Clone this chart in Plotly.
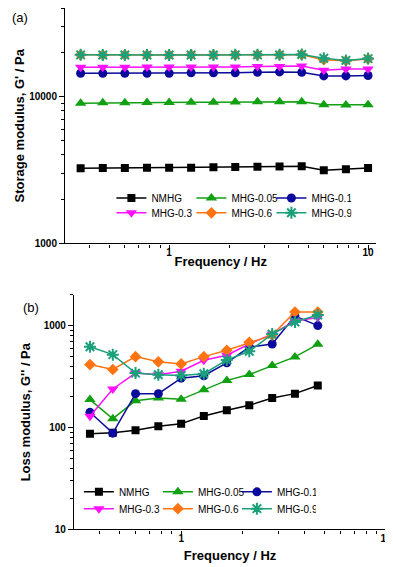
import numpy as np
import plotly.graph_objects as go

# frequency points (Hz), 9 points per decade
freq_g1 = [0.359, 0.464, 0.599, 0.774, 1.0, 1.29, 1.67, 2.15, 2.78, 3.59, 4.64, 5.99, 7.74, 10.0]
freq_g2 = freq_g1[:11]

names = ['NMHG', 'MHG-0.05', 'MHG-0.1', 'MHG-0.3', 'MHG-0.6', 'MHG-0.9']

# storage modulus G' (Pa)
g1_nmhg = [3250, 3260, 3260, 3270, 3280, 3280, 3300, 3310, 3330, 3340, 3350, 3150, 3200, 3260]
g1_005 = [9000, 9050, 9080, 9100, 9100, 9150, 9150, 9170, 9200, 9200, 9200, 8800, 8750, 8780]
g1_01 = [14400, 14400, 14400, 14400, 14400, 14500, 14500, 14500, 14600, 14700, 14600, 13800, 13800, 13900]
g1_03 = [15800, 15800, 15800, 15850, 15850, 15900, 15900, 15900, 16000, 16000, 16100, 15100, 15400, 15400]
g1_06 = [19200, 19150, 19150, 19150, 19150, 19200, 19150, 19200, 19200, 19200, 19250, 17800, 17500, 18000]
g1_09 = [19200, 19150, 19150, 19150, 19150, 19150, 19150, 19200, 19200, 19200, 19300, 18200, 17600, 18100]

# loss modulus G'' (Pa)
g2_nmhg = [87, 89, 94, 103, 109, 130, 148, 165, 195, 215, 258]
g2_005 = [188, 122, 183, 195, 189, 235, 290, 331, 405, 493, 655]
g2_01 = [141, 88, 215, 215, 305, 322, 431, 616, 660, 1240, 1000]
g2_03 = [129, 239, 342, 329, 357, 457, 512, 660, 825, 1110, 1200]
g2_06 = [415, 371, 496, 441, 421, 496, 573, 685, 807, 1360, 1360]
g2_09 = [621, 519, 342, 329, 324, 337, 460, 560, 825, 1086, 1270]

# axis ticks
x_major = [1, 10]
x_minor = [0.4, 0.5, 0.6, 0.7, 0.8, 0.9, 2, 3, 4, 5, 6, 7, 8, 9]
y1_major = [1000, 10000]
y1_minor = [2000, 3000, 4000, 5000, 6000, 7000, 8000, 9000, 20000, 30000, 40000]
y2_major = [10, 100, 1000]
y2_minor = [20, 30, 40, 50, 60, 70, 80, 90, 200, 300, 400, 500, 600, 700, 800, 900, 2000]

colors = ['#000000', '#11a011', '#0a0a9c', '#ff10ff', '#ff7410', '#1aa07a']
symbols = ['square', 'triangle-up', 'circle', 'triangle-down', 'diamond', 'asterisk-open']
sizes = [8, 10, 9, 10, 9, 10]

FONT = 'Liberation Sans, Arial, sans-serif'

fig = go.Figure()

top_series = [g1_nmhg, g1_005, g1_01, g1_03, g1_06, g1_09]
bottom_series = [g2_nmhg, g2_005, g2_01, g2_03, g2_06, g2_09]

for i, (name, ys) in enumerate(zip(names, top_series)):
    marker = dict(symbol=symbols[i], size=sizes[i], color=colors[i],
                  line=dict(color=colors[i], width=2 if symbols[i] == 'asterisk-open' else 0))
    fig.add_trace(go.Scatter(x=freq_g1, y=ys, name=name, mode='lines+markers',
                             line=dict(color=colors[i], width=1.5), marker=marker,
                             xaxis='x', yaxis='y',
                             legend='legend' if i < 3 else 'legend2'))

for i, (name, ys) in enumerate(zip(names, bottom_series)):
    marker = dict(symbol=symbols[i], size=sizes[i], color=colors[i],
                  line=dict(color=colors[i], width=2 if symbols[i] == 'asterisk-open' else 0))
    fig.add_trace(go.Scatter(x=freq_g2, y=ys, name=name, mode='lines+markers',
                             line=dict(color=colors[i], width=1.5), marker=marker,
                             xaxis='x2', yaxis='y2',
                             legend='legend3' if i < 3 else 'legend4'))

tickfont = dict(family=FONT, size=10, color='black', weight='bold')
titlefont = dict(family=FONT, size=13, color='black', weight='bold')


def log_axis(domain, rng, major, minor, anchor, title, standoff, labelshift=0):
    return dict(type='log', domain=domain, range=rng, anchor=anchor,
                showline=True, linecolor='black', linewidth=1.2,
                showgrid=False, zeroline=False,
                ticks='outside', ticklen=5, tickwidth=1.2, tickcolor='black',
                tickmode='array', tickvals=major, ticktext=[str(v) for v in major],
                tickfont=tickfont, ticklabelstandoff=labelshift,
                minor=dict(tickmode='array', tickvals=minor, ticks='outside',
                           ticklen=3, tickwidth=1, tickcolor='black', showgrid=False),
                title=dict(text=title, font=titlefont, standoff=standoff))


W, H = 393, 567
fig.update_layout(
    width=W, height=H,
    margin=dict(l=0, r=0, t=0, b=0),
    plot_bgcolor='white', paper_bgcolor='white',
    font=dict(family=FONT, color='black'),
    xaxis=log_axis([58 / W, 374 / W], [np.log10(0.3), np.log10(11)], x_major, x_minor,
                   'y', 'Frequency / Hz', 0, -6),
    yaxis=log_axis([1 - 238 / H, 1.0], [3, np.log10(40000)], y1_major, y1_minor,
                   'x', "Storage modulus, G' / Pa", 1),
    xaxis2=log_axis([67 / W, 384 / W], [np.log10(0.3), 1], x_major, x_minor,
                    'y2', 'Frequency / Hz', 8, -6),
    yaxis2=log_axis([1 - 527 / H, 1 - 290 / H], [1, np.log10(2000)], y2_major, y2_minor,
                    'x2', "Loss modulus, G'' / Pa", 10),
)

leg = dict(orientation='h', entrywidth=35, entrywidthmode='pixels', bgcolor='rgba(0,0,0,0)',
           font=dict(family=FONT, size=10, color='black'), xanchor='left', yanchor='middle',
           itemwidth=30, tracegroupgap=0)
fig.update_layout(
    legend=dict(leg, x=105 / W, y=1 - 192 / H),
    legend2=dict(leg, x=105 / W, y=1 - 207 / H),
    legend3=dict(leg, x=72 / W, y=1 - 489 / H, entrywidth=34),
    legend4=dict(leg, x=72 / W, y=1 - 506 / H, entrywidth=34),
)

fig.add_annotation(text='(a)', x=2 / W, y=1 - 10 / H, xref='paper', yref='paper',
                   xanchor='left', yanchor='middle', showarrow=False,
                   font=dict(family=FONT, size=13, color='black'))
fig.add_annotation(text='(b)', x=13 / W, y=1 - 303 / H, xref='paper', yref='paper',
                   xanchor='left', yanchor='middle', showarrow=False,
                   font=dict(family=FONT, size=13, color='black'))

fig.write_html("out.html")
